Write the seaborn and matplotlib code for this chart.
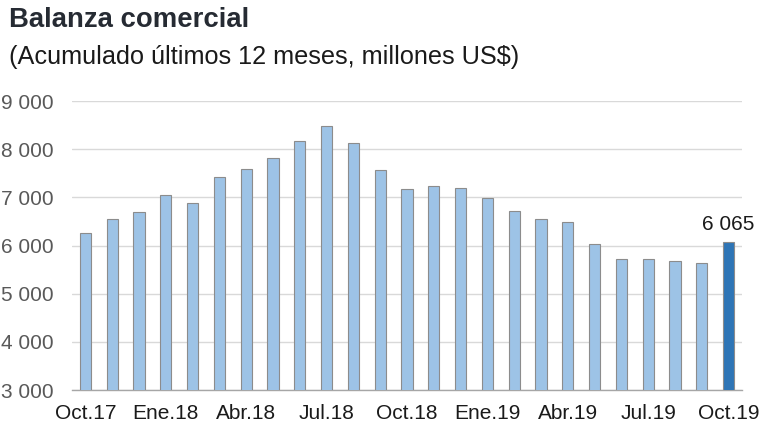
import pandas as pd
import seaborn as sns
import matplotlib.pyplot as plt

# data (millones US$)
meses = ['Oct.17', 'Nov.17', 'Dic.17', 'Ene.18', 'Feb.18', 'Mar.18', 'Abr.18', 'May.18', 'Jun.18',
         'Jul.18', 'Ago.18', 'Sep.18', 'Oct.18', 'Nov.18', 'Dic.18', 'Ene.19', 'Feb.19', 'Mar.19',
         'Abr.19', 'May.19', 'Jun.19', 'Jul.19', 'Ago.19', 'Sep.19', 'Oct.19']
valores = [6270, 6545, 6690, 7040, 6875, 7420, 7600, 7810, 8170,
           8480, 8135, 7560, 7165, 7230, 7195, 6980, 6725, 6545,
           6490, 6025, 5715, 5725, 5670, 5640, 6065]
etiquetas = ['Oct.17', 'Ene.18', 'Abr.18', 'Jul.18', 'Oct.18', 'Ene.19', 'Abr.19', 'Jul.19', 'Oct.19']

df = pd.DataFrame({'mes': meses, 'valor': valores})

sns.set_style('white')
plt.rcParams['font.family'] = ['Liberation Sans', 'DejaVu Sans']

fig = plt.figure(figsize=(7.59, 4.23), dpi=100)
ax = fig.add_axes([0.0949, 0.078, 0.8827, 0.683])

colores = ['#9DC3E6'] * (len(meses) - 1) + ['#2E75B6']
sns.barplot(data=df, x='mes', y='valor', hue='mes', palette=colores, legend=False,
            saturation=1, width=0.42, edgecolor='#8C8C8C', linewidth=0.8, ax=ax, zorder=3)

ax.set_ylim(3000, 9000)
ax.set_xlim(-0.5, len(meses) - 0.5)
ax.set_yticks(range(3000, 9001, 1000))
ax.set_yticklabels([f'{v:,}'.replace(',', ' ') for v in range(3000, 9001, 1000)],
                   fontsize=15, color='#595959')
ax.yaxis.grid(True, color='#D9D9D9', linewidth=1, zorder=0)
ax.set_xticks([meses.index(e) for e in etiquetas])
ax.set_xticklabels(etiquetas, fontsize=15, color='#1a1a1a')
ax.tick_params(axis='x', length=0, pad=10)
ax.tick_params(axis='y', length=0, pad=13)
ax.set_xlabel('')
ax.set_ylabel('')
for s in ['top', 'right', 'left']:
    ax.spines[s].set_visible(False)
ax.spines['bottom'].set_color('#A6A6A6')
ax.spines['bottom'].set_linewidth(1)

ax.annotate(f'{valores[-1]:,}'.replace(',', ' '), (len(meses) - 1, valores[-1]),
            xytext=(0, 6), textcoords='offset points', ha='center', va='bottom',
            fontsize=15, color='#1a1a1a')

fig.text(0.012, 0.953, 'Balanza comercial', fontsize=19.8, fontweight='bold',
         color='#262B33', va='center')
fig.text(0.012, 0.866, '(Acumulado últimos 12 meses, millones US$)', fontsize=18.2,
         color='#1a1a1a', va='center')

fig.savefig('out.png', dpi=100)
